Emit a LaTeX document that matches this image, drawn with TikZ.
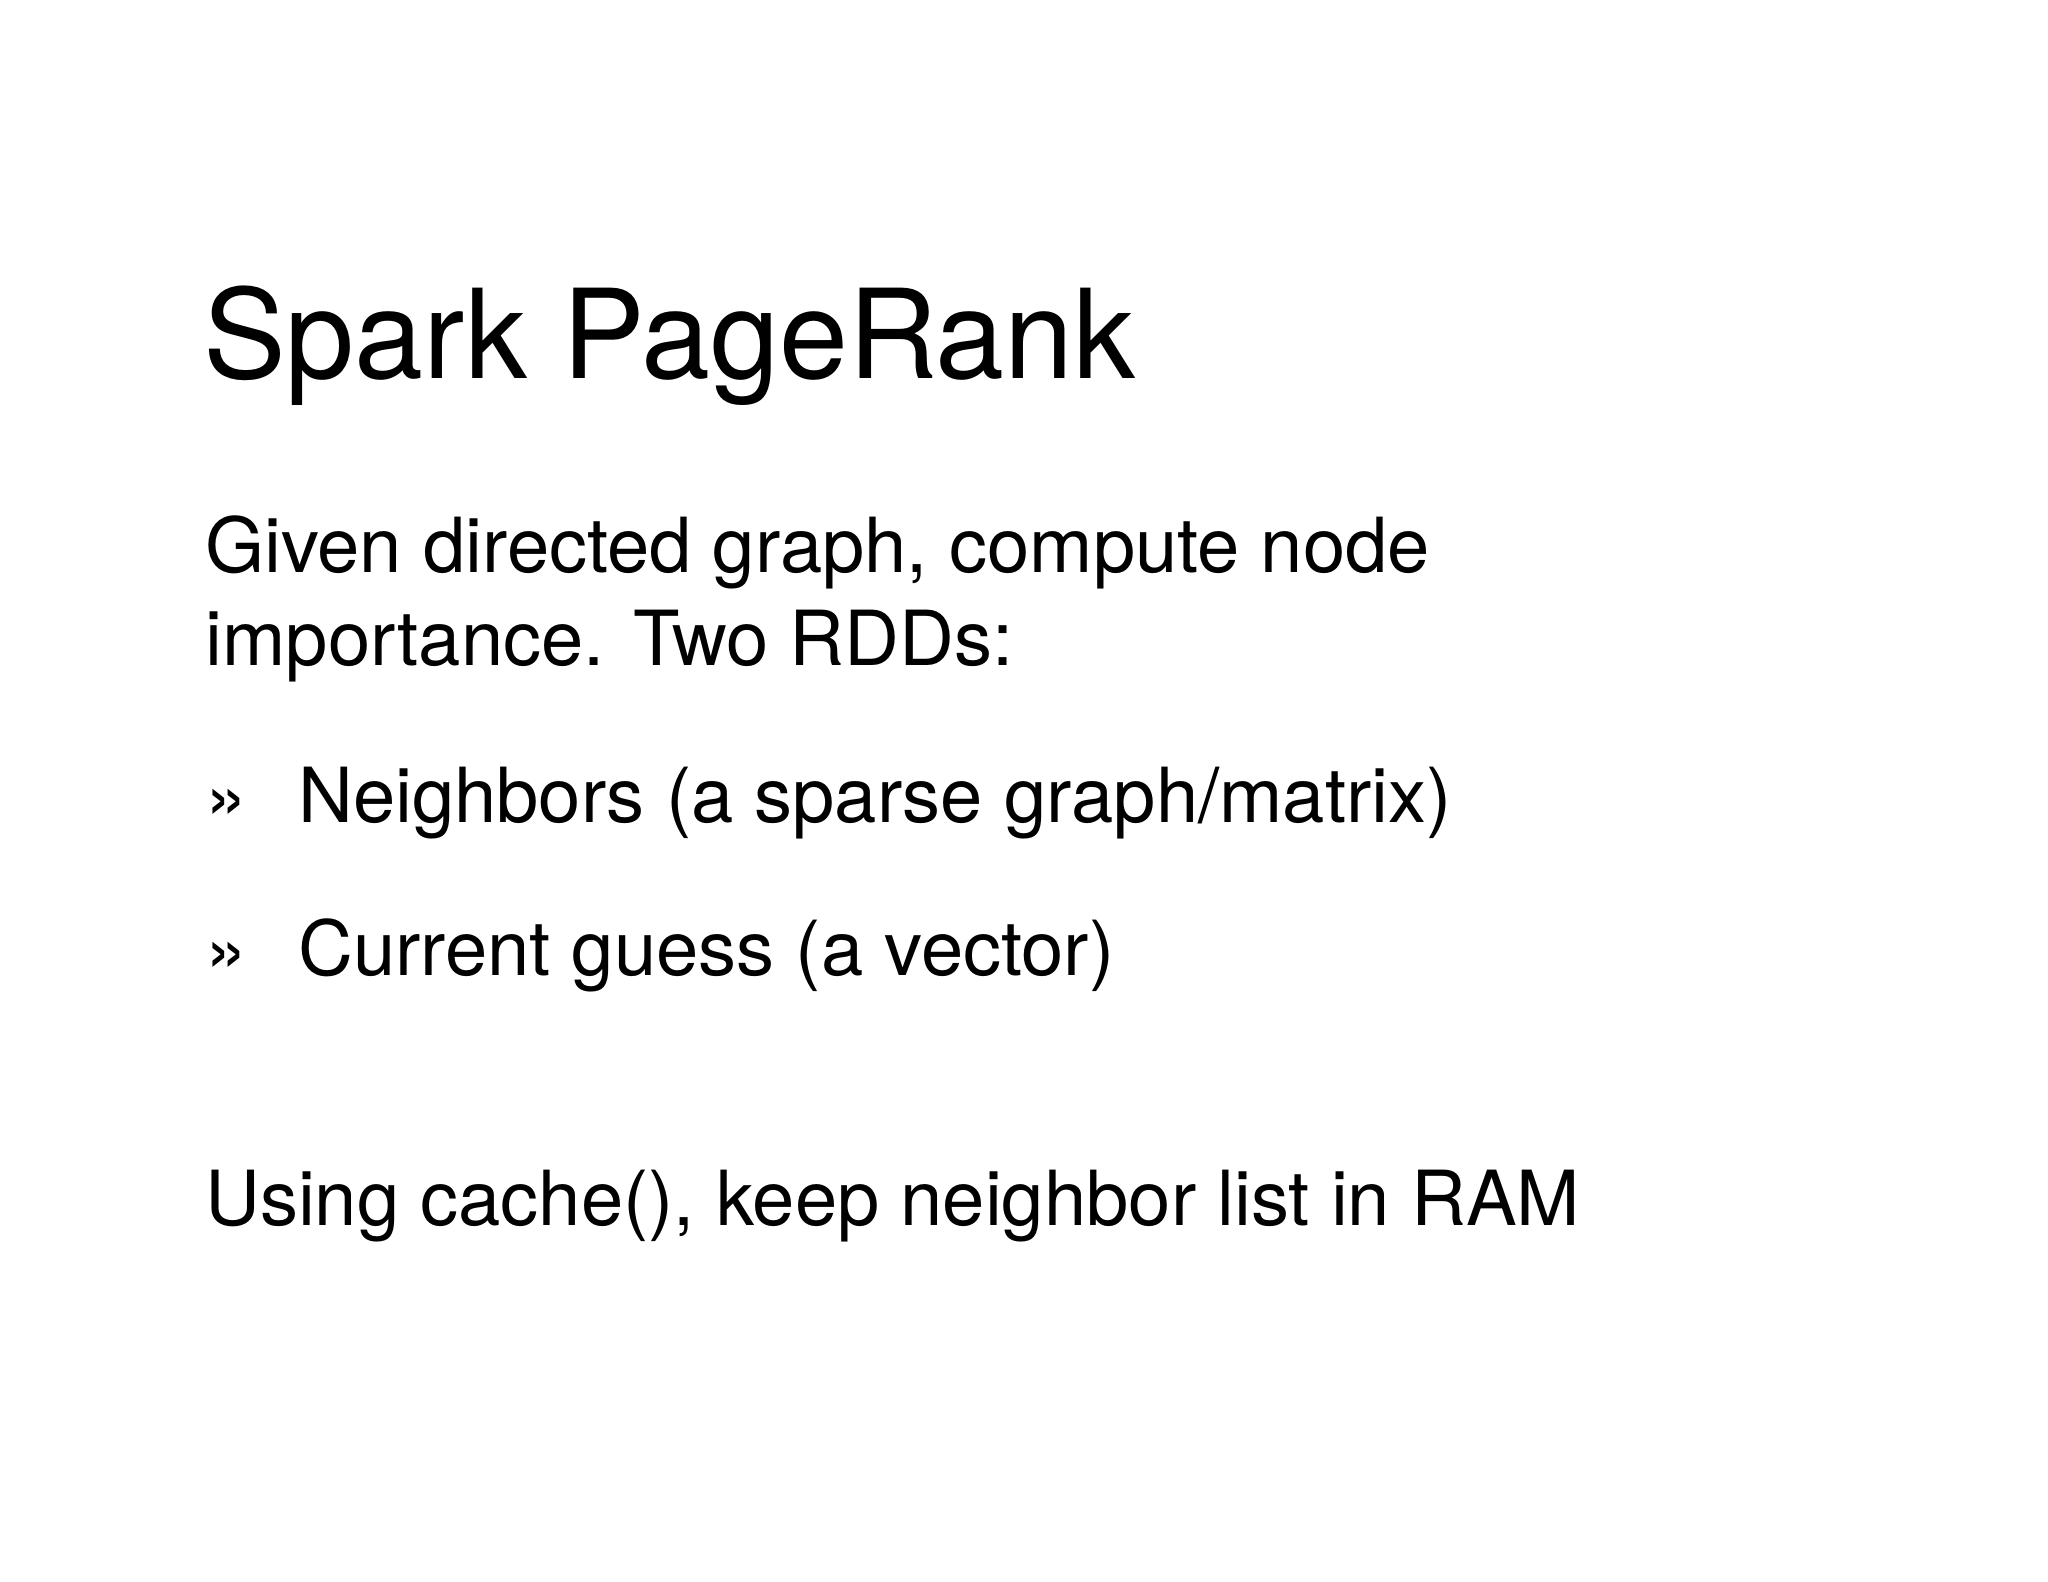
\documentclass[tikz,border=0pt]{standalone}
\usepackage{fontspec}
\setmainfont{TeX Gyre Heros}
\begin{document}
\begin{tikzpicture}[x=1pt,y=1pt,
  title/.style={anchor=base west,inner sep=0pt,font=\fontsize{124}{130}\selectfont},
  body/.style={anchor=base west,inner sep=0pt,font=\fontsize{76}{90}\selectfont}]
\useasboundingbox (0,0) rectangle (2048,-1582);
\node[title] (t) at (203,-378) {Spark PageRank};
\node[body] (l1) at (205,-572) {Given directed graph, compute node};
\node[body] (l2) at (205,-665) {importance. Two RDDs:};
\node[body] (b1) at (205,-822) {»};
\node[body] (i1) at (298,-822) {Neighbors (a sparse graph/matrix)};
\node[body] (b2) at (205,-975) {»};
\node[body] (i2) at (298,-975) {Current guess (a vector)};
\node[body] (l3) at (205,-1225) {Using cache(), keep neighbor list in RAM};
\end{tikzpicture}
\end{document}
